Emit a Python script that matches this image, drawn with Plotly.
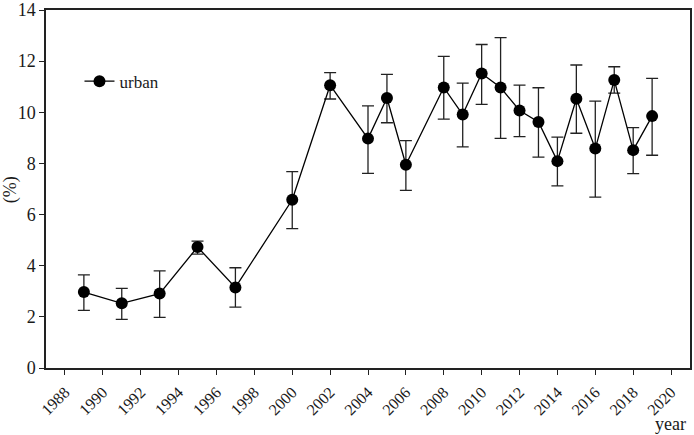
import plotly.graph_objects as go

years = [1989, 1991, 1993, 1995, 1997, 2000, 2002, 2004, 2005, 2006, 2008, 2009,
         2010, 2011, 2012, 2013, 2014, 2015, 2016, 2017, 2018, 2019]
urban = [2.97, 2.53, 2.91, 4.73, 3.15, 6.58, 11.06, 8.97, 10.56, 7.95, 10.97, 9.91,
         11.52, 10.97, 10.07, 9.62, 8.09, 10.53, 8.58, 11.26, 8.52, 9.85]
upper = [3.64, 3.11, 3.80, 4.96, 3.92, 7.68, 11.55, 10.25, 11.48, 8.89, 12.19, 11.14,
         12.65, 12.92, 11.06, 10.96, 9.03, 11.85, 10.44, 11.78, 9.40, 11.33]
lower = [2.25, 1.90, 1.98, 4.45, 2.38, 5.45, 10.52, 7.61, 9.59, 6.95, 9.73, 8.65,
         10.31, 8.98, 9.05, 8.25, 7.12, 9.18, 6.68, 10.75, 7.60, 8.32]
x_ticks = list(range(1988, 2021, 2))
y_ticks = list(range(0, 15, 2))

err_plus = [u - v for u, v in zip(upper, urban)]
err_minus = [v - l for v, l in zip(urban, lower)]

font = "Liberation Serif, Times New Roman, serif"
ink = "#1a1a1a"

fig = go.Figure()
fig.add_trace(go.Scatter(
    x=years, y=urban, mode="lines+markers", name="urban",
    line=dict(color="black", width=1.3),
    marker=dict(color="black", size=12),
    error_y=dict(type="data", symmetric=False, array=err_plus, arrayminus=err_minus,
                 color="#222222", thickness=1.3, width=6),
))

fig.update_layout(
    width=694, height=435,
    margin=dict(l=46, r=4, t=10, b=67, autoexpand=False),
    paper_bgcolor="white", plot_bgcolor="white",
    font=dict(family=font, size=18, color=ink),
    showlegend=True,
    legend=dict(x=0.052, y=0.80, xanchor="left", yanchor="middle",
                bgcolor="rgba(0,0,0,0)", font=dict(family=font, size=17, color=ink)),
    xaxis=dict(range=[1987, 2021], tickvals=x_ticks, ticktext=[str(t) for t in x_ticks],
               tickangle=-45, ticks="outside", ticklen=5, tickwidth=1.3, tickcolor="#222222",
               showline=True, linecolor="#222222", linewidth=1.5, mirror=True,
               showgrid=False, zeroline=False, ticklabeloverflow="allow", automargin=False,
               ticklabelstandoff=2,
               tickfont=dict(family=font, size=16, color=ink)),
    yaxis=dict(range=[0, 14], tickvals=y_ticks, ticks="outside", ticklen=5, tickwidth=1.3,
               tickcolor="#222222", showline=True, linecolor="#222222", linewidth=1.5,
               mirror=True, showgrid=False, zeroline=False, ticklabeloverflow="allow",
               automargin=False, tickfont=dict(family=font, size=18, color=ink)),
    annotations=[
        dict(text="year", xref="paper", yref="paper", x=0.970, y=-0.157,
             xanchor="center", yanchor="middle", showarrow=False,
             font=dict(family=font, size=18, color=ink)),
        dict(text="(%)", xref="paper", yref="paper", x=-0.056, y=0.499,
             xanchor="center", yanchor="middle", showarrow=False, textangle=-90,
             font=dict(family=font, size=18, color=ink)),
    ],
)

fig.write_html("out.html", config={"displayModeBar": False},
               post_script="document.body.style.margin='0';")
